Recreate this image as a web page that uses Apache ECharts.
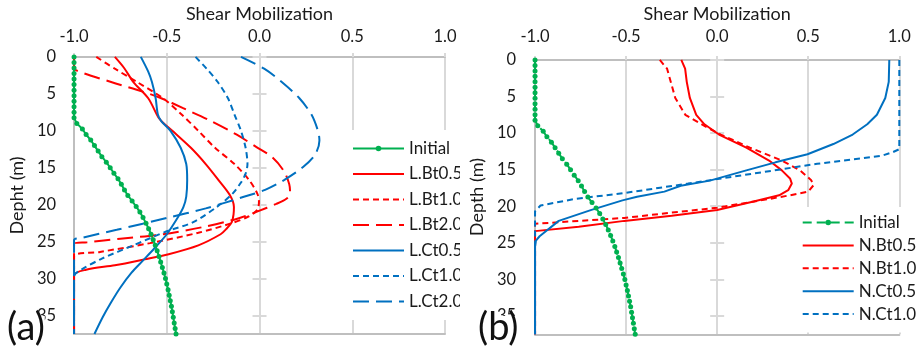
<!DOCTYPE html>
<html>
<head>
<meta charset="utf-8">
<script src="https://cdn.jsdelivr.net/npm/echarts@6/dist/echarts.min.js"></script>
<style>
  html, body { margin: 0; padding: 0; background: #fff; }
  #wrap { position: relative; width: 920px; height: 347px; overflow: hidden; }
  #panelA { position: absolute; left: 0; top: 0; width: 460px; height: 347px; overflow: hidden; }
  #panelB { position: absolute; left: 460px; top: 0; width: 460px; height: 347px; overflow: hidden; }
</style>
</head>
<body>
<div id="wrap">
  <div id="panelA"></div>
  <div id="panelB"></div>
</div>
<script>
// ---- Data: shear mobilization (x) versus depth in metres (y) ----
const depthTicks = [0, 5, 10, 15, 20, 25, 30, 35];

const initialDepth = [0, 0.75, 1.5, 2.25, 3, 3.75, 4.5, 5.25, 6, 6.75, 7.5, 8.25,
  9, 9.75, 10.5, 11.25, 12, 12.75, 13.5, 14.25, 15, 15.75, 16.5, 17.25, 18, 18.75,
  19.5, 20.25, 21, 21.75, 22.5, 23.25, 24, 24.75, 25.5, 26.25, 27, 27.75, 28.5,
  29.25, 30, 30.75, 31.5, 32.25, 33, 33.75, 34.5, 35.25, 36, 36.75, 37.5];
const initialShear = [-1, -1, -1, -1, -1, -1, -1, -1, -1, -1, -1, -1,
  -0.985, -0.955, -0.935, -0.91, -0.89, -0.87, -0.85, -0.826, -0.805, -0.785, -0.763,
  -0.745, -0.728, -0.71, -0.687, -0.665, -0.645, -0.628, -0.612, -0.598, -0.585,
  -0.573, -0.562, -0.552, -0.542, -0.533, -0.524, -0.515, -0.507, -0.5, -0.493,
  -0.487, -0.481, -0.475, -0.47, -0.465, -0.46, -0.455, -0.45];

// Panel (a): [shear, depth]
const lBt05 = [[-0.78,0],[-0.73,1.5],[-0.68,3.4],[-0.60,5.6],[-0.545,8.2],[-0.52,8.9],[-0.47,10.0],[-0.37,12.3],[-0.29,14.5],[-0.22,16.7],[-0.16,18.7],[-0.138,20.3],[-0.14,21.3],[-0.15,22.4],[-0.18,23.3],[-0.21,24.0],[-0.33,25.5],[-0.49,26.7],[-0.62,27.4],[-0.78,28.2],[-0.935,28.8],[-1,29.6],[-1,37.5]];
const lBt10 = [[-0.88,0],[-0.78,1.6],[-0.66,3.4],[-0.52,5.6],[-0.42,7.8],[-0.33,10.0],[-0.24,12.3],[-0.135,14.5],[-0.055,16.7],[-0.012,18.5],[-0.003,19.6],[-0.012,20.7],[-0.06,21.6],[-0.15,22.5],[-0.33,23.8],[-0.59,25.2],[-0.86,26.4],[-1,27.0],[-1,37.5]];
const lBt20 = [[-1,0],[-1,1.2],[-0.99,1.8],[-0.80,3.4],[-0.63,4.7],[-0.53,5.6],[-0.415,6.9],[-0.26,8.7],[-0.125,10.5],[-0.01,12.3],[0.07,13.6],[0.13,15.4],[0.16,17.2],[0.165,18.5],[0.145,19.2],[0.09,19.9],[-0.01,20.9],[-0.12,21.9],[-0.30,23.0],[-0.52,24.0],[-0.75,24.6],[-0.93,25.1],[-1,25.3],[-1,37.5]];
const lCt05 = [[-0.64,0],[-0.60,2.0],[-0.58,3.4],[-0.56,5.6],[-0.548,7.8],[-0.53,8.7],[-0.48,10.0],[-0.425,12.3],[-0.395,14.5],[-0.39,16.7],[-0.395,18.9],[-0.41,20.3],[-0.44,21.7],[-0.50,24.0],[-0.57,26.0],[-0.63,27.6],[-0.69,29.2],[-0.75,31.2],[-0.80,33.2],[-0.845,35.2],[-0.89,37.5]];
const lCt10 = [[-0.345,0],[-0.285,1.6],[-0.225,3.4],[-0.17,5.6],[-0.135,7.8],[-0.10,10.0],[-0.075,12.3],[-0.065,14.5],[-0.075,15.8],[-0.10,17.0],[-0.145,18.5],[-0.23,20.3],[-0.36,22.4],[-0.50,23.6],[-0.68,25.5],[-0.85,27.3],[-0.96,28.8],[-1,29.7],[-1,37.5]];
const lCt20 = [[-0.10,0],[0.025,1.6],[0.12,3.4],[0.215,5.6],[0.28,7.8],[0.315,10.0],[0.323,11.3],[0.30,13.2],[0.235,14.9],[0.13,16.7],[0.03,18.0],[-0.08,18.9],[-0.29,20.5],[-0.50,21.8],[-0.77,23.4],[-0.96,24.5],[-1,24.8],[-1,37.5]];

// Panel (b): [shear, depth]
const nBt05 = [[-0.197,0],[-0.176,1.2],[-0.167,3.0],[-0.15,5.2],[-0.115,7.5],[-0.07,8.8],[0.01,10.2],[0.16,12.0],[0.285,13.75],[0.355,15.1],[0.40,16.2],[0.41,16.9],[0.39,17.8],[0.34,18.5],[0.20,19.35],[0.0,20.5],[-0.25,21.3],[-0.51,22.0],[-0.76,22.8],[-1,23.4],[-1,37.5]];
const nBt10 = [[-0.315,0],[-0.275,1.2],[-0.255,3.0],[-0.23,5.2],[-0.175,7.5],[-0.05,9.3],[0.02,10.2],[0.18,12.0],[0.355,13.75],[0.455,15.1],[0.515,16.4],[0.53,17.1],[0.50,18.0],[0.40,18.5],[0.24,19.2],[0.0,20.2],[-0.26,20.9],[-0.51,21.6],[-0.76,22.0],[-1,22.4],[-1,37.5]];
const nCt05 = [[0.945,0],[0.942,3.0],[0.923,5.2],[0.877,7.5],[0.824,8.8],[0.744,10.2],[0.638,11.5],[0.496,12.9],[0.32,14.0],[0.16,15.1],[-0.04,16.5],[-0.20,17.2],[-0.29,18.0],[-0.44,18.7],[-0.52,19.2],[-0.69,20.5],[-0.87,22.0],[-0.975,24.1],[-0.995,24.7],[-1,25.5],[-1,37.5]];
const nCt10 = [[1,0],[1,12.2],[0.965,12.6],[0.903,13.1],[0.549,14.2],[0.195,15.55],[-0.16,16.9],[-0.51,18.2],[-0.78,19.0],[-0.97,19.9],[-1,20.7],[-1,37.5]];

// ---- Styling ----
const FONT = 'Lato';
const TEXT = '#1a1a1a';
const GRID = '#d9d9d9';
const AXIS = '#bfbfbf';
const RED = '#ff0000';
const BLUE = '#0070c0';
const GREEN = '#00b050';
const SHORT_DASH = [6, 4];
const LONG_DASH = [16, 7];

function initialPairs() {
  return initialShear.map((s, i) => [s, initialDepth[i]]);
}

function curve(name, data, color, dash, smooth) {
  return {
    type: 'line', name, data, smooth, clip: false,
    symbol: 'none', showSymbol: false,
    lineStyle: { color, width: 2, type: dash },
    itemStyle: { color },
    emphasis: { disabled: true }
  };
}

function initialSeries(dash) {
  return {
    type: 'line', name: 'Initial', data: initialPairs(), clip: false,
    symbol: 'circle', symbolSize: 5, showSymbol: true,
    lineStyle: { color: GREEN, width: 2, type: dash },
    itemStyle: { color: GREEN },
    emphasis: { disabled: true }
  };
}

// legend entries: plain line icons for curves, line + dot for the marked series
function legendItems(series) {
  return series.map(s => s.symbol === 'none'
    ? { name: s.name, itemStyle: { opacity: 0 } }
    : { name: s.name });
}

function panelOption(cfg) {
  const depthAxisBase = { type: 'value', inverse: true, min: 0, max: 37.5, interval: 5, splitLine: { show: false } };
  return {
    animation: false,
    textStyle: { fontFamily: FONT },
    grid: { left: cfg.grid[0], right: cfg.grid[1], top: cfg.grid[2], bottom: cfg.grid[3] },
    xAxis: [
      {
        type: 'value', position: 'top', min: -1, max: 1, interval: 0.5,
        name: 'Shear Mobilization', nameLocation: 'middle', nameGap: cfg.titleGap,
        nameTextStyle: { fontSize: 18, color: TEXT, fontFamily: FONT },
        axisLine: { onZero: false, lineStyle: { color: AXIS, width: 2 } },
        axisTick: { show: true, length: 4, lineStyle: { color: GRID, width: 2 } },
        axisLabel: { margin: cfg.xLabelMargin, fontSize: 16.5, color: TEXT, fontFamily: FONT, formatter: v => v.toFixed(1) },
        splitLine: { show: true, lineStyle: { color: GRID, width: 2 } }
      },
      {
        type: 'value', position: 'bottom', min: -1, max: 1, interval: 0.5,
        axisLine: { onZero: false, lineStyle: { color: AXIS, width: 2 } },
        axisTick: { show: false }, axisLabel: { show: false }, splitLine: { show: false }
      }
    ],
    yAxis: [
      Object.assign({}, depthAxisBase, {
        name: cfg.yName, nameLocation: 'middle', nameGap: cfg.yNameGap,
        nameTextStyle: { fontSize: 18, color: TEXT, fontFamily: FONT },
        axisLine: { onZero: false, lineStyle: { color: AXIS, width: 2 } },
        axisTick: { show: false },
        axisLabel: { customValues: depthTicks, margin: cfg.yLabelMargin, fontSize: 16.5, color: TEXT, fontFamily: FONT }
      }),
      // tick crosses drawn on the zero line of the shear axis
      Object.assign({}, depthAxisBase, {
        axisLine: { show: true, onZero: true, onZeroAxisIndex: 0, lineStyle: { color: GRID, width: 2 } },
        axisTick: { show: true, inside: true, length: 7, customValues: depthTicks, lineStyle: { color: GRID, width: 2 } },
        axisLabel: { show: false }
      }),
      Object.assign({}, depthAxisBase, {
        axisLine: { show: true, onZero: true, onZeroAxisIndex: 0, lineStyle: { color: GRID, width: 2 } },
        axisTick: { show: true, inside: false, length: 7, customValues: depthTicks, lineStyle: { color: GRID, width: 2 } },
        axisLabel: { show: false }
      })
    ],
    legend: {
      orient: 'vertical', left: cfg.legend.left, top: cfg.legend.top,
      padding: cfg.legend.padding, itemGap: cfg.legend.gap,
      itemWidth: 51, itemHeight: 7, backgroundColor: '#fff',
      selectedMode: false,
      textStyle: { fontSize: 17, color: TEXT, fontFamily: FONT },
      data: legendItems(cfg.series)
    },
    graphic: [{
      type: 'text', x: cfg.tag.x, y: cfg.tag.y, z: 100,
      style: {
        text: cfg.tag.text, fontSize: 38, fontFamily: FONT, fill: '#111',
        backgroundColor: '#fff', lineHeight: 24, align: 'left', verticalAlign: 'middle'
      }
    }],
    series: cfg.series
  };
}

const chartA = echarts.init(document.getElementById('panelA'), null, { renderer: 'canvas' });
chartA.setOption(panelOption({
  grid: [66, 15, 53, 13],
  titleGap: 26, xLabelMargin: 12, yLabelMargin: 18,
  yName: 'Depht (m)', yNameGap: 30,
  legend: { left: 340, top: 130, padding: [10, 0, 10, 12], gap: 8.5 },
  tag: { text: '(a)', x: 7, y: 328 },
  series: [
    initialSeries('solid'),
    curve('L.Bt0.5', lBt05, RED, 'solid', 0.3),
    curve('L.Bt1.0', lBt10, RED, SHORT_DASH, 0.3),
    curve('L.Bt2.0', lBt20, RED, LONG_DASH, 0.3),
    curve('L.Ct0.5', lCt05, BLUE, 'solid', 0.3),
    curve('L.Ct1.0', lCt10, BLUE, SHORT_DASH, 0.3),
    curve('L.Ct2.0', lCt20, BLUE, LONG_DASH, 0.3)
  ]
}));

const chartB = echarts.init(document.getElementById('panelB'), null, { renderer: 'canvas' });
chartB.setOption(panelOption({
  grid: [63.3, 20.7, 56, 12.7],
  titleGap: 30, xLabelMargin: 15, yLabelMargin: 19,
  yName: 'Depth (m)', yNameGap: 28,
  legend: { left: 330, top: 207, padding: [7, 0, 10, 11.7], gap: 5.9 },
  tag: { text: '(b)', x: 18, y: 328 },
  series: [
    initialSeries([9, 5]),
    curve('N.Bt0.5', nBt05, RED, 'solid', false),
    curve('N.Bt1.0', nBt10, RED, SHORT_DASH, false),
    curve('N.Ct0.5', nCt05, BLUE, 'solid', false),
    curve('N.Ct1.0', nCt10, BLUE, SHORT_DASH, false)
  ]
}));
</script>
</body>
</html>
